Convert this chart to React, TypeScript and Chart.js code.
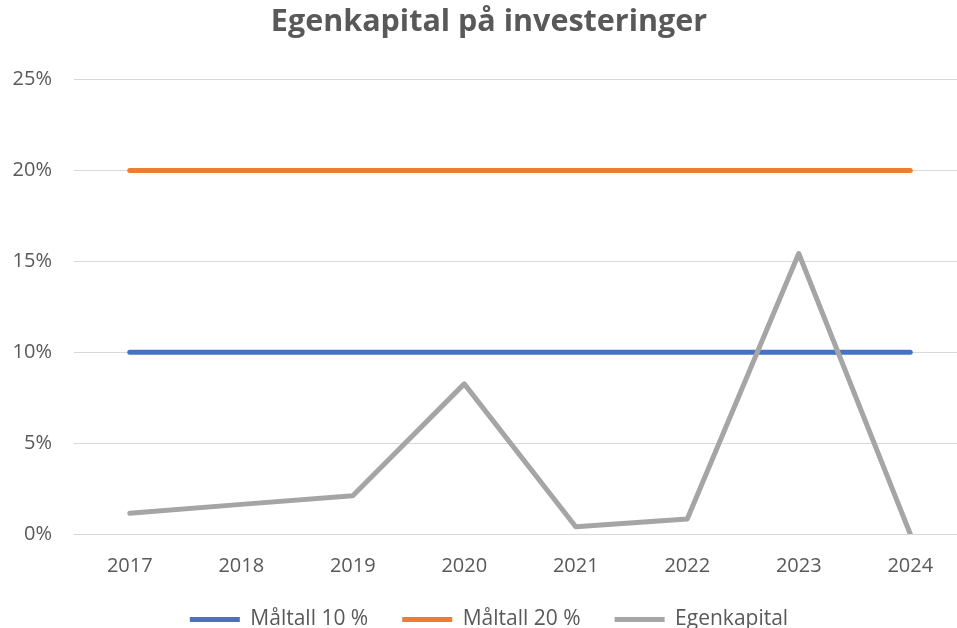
import React, { useEffect, useRef } from "react";
import { Chart, registerables } from "chart.js";

Chart.register(...registerables);

const years = ["2017", "2018", "2019", "2020", "2021", "2022", "2023", "2024"];
const target10 = [10, 10, 10, 10, 10, 10, 10, 10];
const target20 = [20, 20, 20, 20, 20, 20, 20, 20];
const egenkapital = [1.14, 1.63, 2.1, 8.26, 0.4, 0.83, 15.43, 0];
const seriesLabels = ["Måltall 10 %", "Måltall 20 %", "Egenkapital"];
const yMax = 25;
const yStep = 5;

const FONT = "'Open Sans', 'DejaVu Sans', sans-serif";
const TEXT = "#595959";

export default function App() {
  const ref = useRef<HTMLCanvasElement | null>(null);

  useEffect(() => {
    if (!ref.current) return;
    const chart = new Chart(ref.current, {
      type: "line",
      data: {
        labels: years,
        datasets: [
          {
            label: seriesLabels[0],
            data: target10,
            borderColor: "#4472C4",
            backgroundColor: "#4472C4",
            borderWidth: 5,
            pointRadius: 0,
            borderCapStyle: "round",
            borderJoinStyle: "round",
            order: 1,
          },
          {
            label: seriesLabels[1],
            data: target20,
            borderColor: "#ED7D31",
            backgroundColor: "#ED7D31",
            borderWidth: 5,
            pointRadius: 0,
            borderCapStyle: "round",
            borderJoinStyle: "round",
            order: 1,
          },
          {
            label: seriesLabels[2],
            data: egenkapital,
            borderColor: "#A5A5A5",
            backgroundColor: "#A5A5A5",
            borderWidth: 5,
            pointRadius: 0,
            borderCapStyle: "round",
            borderJoinStyle: "round",
            order: 0,
          },
        ],
      },
      options: {
        responsive: false,
        animation: false,
        layout: { padding: { left: 12, right: 19, top: 0, bottom: 0 } },
        plugins: {
          tooltip: { enabled: false },
          title: {
            display: true,
            text: "Egenkapital på investeringer",
            color: TEXT,
            font: { family: FONT, size: 30.5, weight: "bold" },
            padding: { top: 4, bottom: 39 },
          },
          legend: {
            position: "bottom",
            labels: {
              color: TEXT,
              font: { family: FONT, size: 21 },
              boxWidth: 50,
              boxHeight: 5,
              padding: 34,
              generateLabels: (c: any) =>
                c.data.datasets.map((ds: any, i: number) => ({
                  text: ds.label,
                  fillStyle: ds.borderColor,
                  strokeStyle: ds.borderColor,
                  lineWidth: 0,
                  hidden: false,
                  datasetIndex: i,
                  fontColor: TEXT,
                })),
            },
          },
        },
        scales: {
          x: {
            offset: true,
            grid: { display: false, drawTicks: false },
            border: { display: false },
            ticks: {
              color: TEXT,
              font: { family: FONT, size: 20 },
              padding: 20,
              maxRotation: 0,
            },
            afterFit: (scale: any) => {
              scale.height = 41;
            },
          },
          y: {
            min: 0,
            max: yMax,
            grid: { color: "#d9d9d9", lineWidth: 1, drawTicks: false },
            border: { display: false },
            ticks: {
              stepSize: yStep,
              color: TEXT,
              font: { family: FONT, size: 20 },
              padding: 22,
              callback: (v: any) => `${v}%`,
            },
            afterFit: (scale: any) => {
              scale.width = 62;
            },
          },
        },
      },
    });
    return () => chart.destroy();
  }, []);

  return (
    <div
      style={{
        position: "absolute",
        left: 0,
        top: 0,
        width: 957,
        height: 628,
        overflow: "hidden",
        background: "#fff",
      }}
    >
      <canvas ref={ref} width={985} height={640} style={{ width: 985, height: 640, display: "block" }} />
    </div>
  );
}
